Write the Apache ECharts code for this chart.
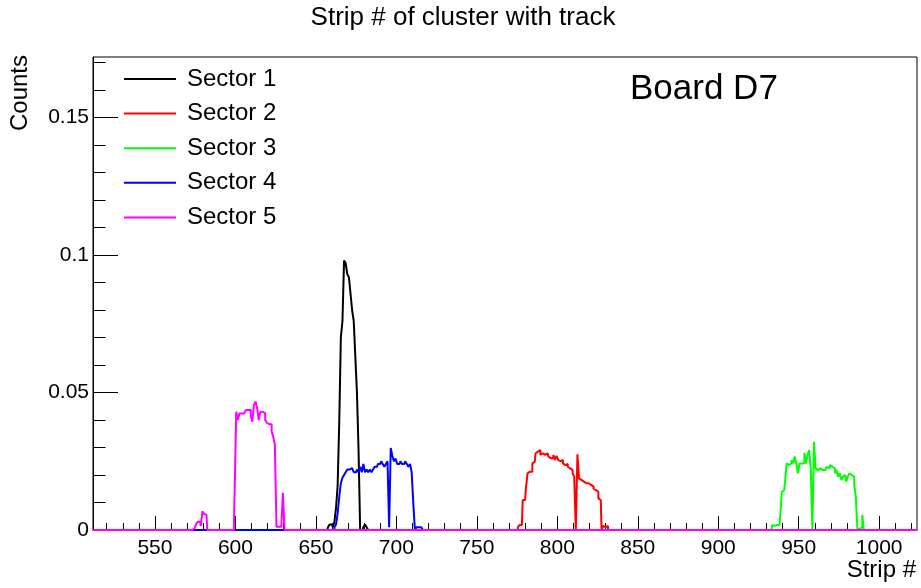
<!DOCTYPE html>
<html>
<head>
<meta charset="utf-8">
<title>Strip # of cluster with track</title>
<script src="https://cdn.jsdelivr.net/npm/echarts@6/dist/echarts.min.js"></script>
<style>
  html, body { margin: 0; padding: 0; background: #fff; }
  #chart { width: 921px; height: 588px; }
</style>
</head>
<body>
<div id="chart"></div>
<script>
// Per-strip normalized counts, one array per sector, starting at the given strip.
const sectorNames = ['Sector 1', 'Sector 2', 'Sector 3', 'Sector 4', 'Sector 5'];
const sectorColors = ['#000000', '#ff0000', '#00ff00', '#0000ff', '#ff00ff'];

const sector1Start = 658;
const sector1Values = [
  0.001, 0.002, 0.002, 0.001, 0.003, 0.008, 0.016, 0.039, 0.070, 0.076,
  0.098, 0.097, 0.093, 0.092, 0.086, 0.080, 0.076, 0.063, 0.050, 0.029,
  0, 0, 0.001, 0.002, 0.001
];

const sector2Start = 776;
const sector2Values = [
  0.001, 0.0018, 0.0018, 0.0109, 0.0109, 0.0152, 0.0206, 0.0212, 0.0212, 0.0242,
  0.0248, 0.0279, 0.0285, 0.0291, 0.0273, 0.0279, 0.0273, 0.0273, 0.0279, 0.0267,
  0.0261, 0.0261, 0.0273, 0.0255, 0.0270, 0.0255, 0.0250, 0.0255, 0.0242, 0.0236,
  0.0240, 0.0230, 0.0224, 0.0218, 0.0206, 0.0194, 0, 0.0275, 0.0188, 0.0182,
  0.0176, 0.0176, 0.0170, 0.0170, 0.0164, 0.0164, 0.0158, 0.0150, 0.0145, 0.0139,
  0.0115, 0.0109, 0, 0.0015, 0.001, 0.0015
];

const sector3Start = 934;
const sector3Values = [
  0.0018, 0.0015, 0.0018, 0.0015, 0.0018, 0.0048, 0.0139, 0.0145, 0.0176, 0.0242,
  0.0236, 0.0242, 0.0255, 0.0242, 0.0267, 0.0242, 0.0206, 0.0242, 0.0242, 0.0242,
  0.0279, 0.0242, 0.0273, 0.0291, 0.0224, 0, 0.0321, 0.0224, 0.0218, 0.0224,
  0.0218, 0.0218, 0.0218, 0.0224, 0.0230, 0.0224, 0.0236, 0.0230, 0.0224, 0.0206,
  0.0218, 0.0194, 0.0206, 0.0182, 0.0194, 0.0200, 0.0176, 0.0194, 0.0206, 0.0200,
  0.0194, 0.0164, 0.0121, 0, 0.0005, 0.001, 0.0055
];

const sector4Start = 662;
const sector4Values = [
  0.001, 0.002, 0.006, 0.012, 0.017, 0.019, 0.020, 0.021, 0.022, 0.022,
  0.0225, 0.022, 0.021, 0.021, 0.022, 0.021, 0.023, 0.021, 0.024, 0.021,
  0.022, 0.021, 0.022, 0.021, 0.022, 0.023, 0.023, 0.024, 0.024, 0.025,
  0.024, 0.023, 0.024, 0.025, 0.001, 0.0298, 0.027, 0.025, 0.026, 0.024,
  0.024, 0.025, 0.024, 0.024, 0.025, 0.024, 0.023, 0.024, 0.021, 0.010,
  0, 0.001, 0.001, 0.001, 0.001
];

const sector5Start = 574;
const sector5Values = [
  0.0005, 0.001, 0.002, 0.003, 0.003, 0.0015, 0.0068, 0.0058, 0.0055, 0,
  0, 0, 0, 0, 0, 0, 0, 0, 0, 0,
  0, 0, 0, 0, 0, 0, 0.0135, 0.043, 0.040, 0.0424,
  0.0424, 0.0424, 0.043, 0.0436, 0.0436, 0.0436, 0.0418, 0.0394, 0.0455, 0.0467,
  0.0442, 0.040, 0.043, 0.043, 0.0424, 0.040, 0.039, 0.0385, 0.0385, 0.0358,
  0.0339, 0.0309, 0.0012, 0.0012, 0.0012, 0.0005, 0.0135
];

// Axis range and tick labels
const stripLow = 511.5;
const stripHigh = 1023.5;
const countsMax = 0.172;
const xMajorTicks = [550, 600, 650, 700, 750, 800, 850, 900, 950, 1000];
const xMinorTicks = [520, 530, 540, 560, 570, 580, 590, 610, 620, 630, 640, 660, 670, 680, 690,
  710, 720, 730, 740, 760, 770, 780, 790, 810, 820, 830, 840, 860, 870, 880, 890,
  910, 920, 930, 940, 960, 970, 980, 990, 1010, 1020];
const yMajorTicks = [0, 0.05, 0.1, 0.15];
const yMinorTicks = [0.01, 0.02, 0.03, 0.04, 0.06, 0.07, 0.08, 0.09, 0.11, 0.12, 0.13, 0.14, 0.16, 0.17];

// Expand a sector's values to the full strip range (empty strips are zero).
function fullHistogram(start, values) {
  const pts = [[stripLow, 0]];
  for (let s = 512; s <= 1023; s++) {
    const i = s - start;
    pts.push([s, (i >= 0 && i < values.length) ? values[i] : 0]);
  }
  pts.push([stripHigh, 0]);
  return pts;
}

const sectorData = [
  fullHistogram(sector1Start, sector1Values),
  fullHistogram(sector2Start, sector2Values),
  fullHistogram(sector3Start, sector3Values),
  fullHistogram(sector4Start, sector4Values),
  fullHistogram(sector5Start, sector5Values)
];

const FONT = '"Liberation Sans", Arial, Helvetica, sans-serif';
const chart = echarts.init(document.getElementById('chart'), null, { renderer: 'canvas' });

const option = {
  animation: false,
  backgroundColor: '#ffffff',
  grid: {
    left: 93, right: 4, top: 57, bottom: 58,
    show: true, borderColor: '#000', borderWidth: 1, backgroundColor: 'transparent'
  },
  legend: {
    orient: 'vertical',
    left: 124, top: 67,
    padding: 0,
    itemWidth: 52, itemHeight: 2, itemGap: 10.6,
    icon: 'rect',
    selectedMode: false,
    textStyle: { fontSize: 24, fontFamily: FONT, color: '#000', padding: [0, 0, 0, 6], lineHeight: 24 },
    data: sectorNames
  },
  xAxis: [
    {
      type: 'value', min: stripLow, max: stripHigh, position: 'bottom',
      axisLine: { show: true, onZero: false, lineStyle: { color: '#000', width: 1 } },
      axisTick: { show: true, inside: true, length: 14, customValues: xMajorTicks, lineStyle: { color: '#000', width: 1 } },
      axisLabel: { customValues: xMajorTicks, margin: 8, color: '#000', fontSize: 21, fontFamily: FONT,
        formatter: v => String(v) },
      splitLine: { show: false }
    },
    {
      type: 'value', min: stripLow, max: stripHigh, position: 'bottom',
      axisLine: { show: false, onZero: false },
      axisTick: { show: true, inside: true, length: 7, customValues: xMinorTicks, lineStyle: { color: '#000', width: 1 } },
      axisLabel: { show: false },
      splitLine: { show: false }
    }
  ],
  yAxis: [
    {
      type: 'value', min: 0, max: countsMax, position: 'left',
      axisLine: { show: true, onZero: false, lineStyle: { color: '#000', width: 1 } },
      axisTick: { show: true, inside: true, length: 25, customValues: yMajorTicks, lineStyle: { color: '#000', width: 1 } },
      axisLabel: { customValues: yMajorTicks, margin: 4, color: '#000', fontSize: 21, fontFamily: FONT,
        formatter: v => String(v) },
      splitLine: { show: false }
    },
    {
      type: 'value', min: 0, max: countsMax, position: 'left',
      axisLine: { show: false, onZero: false },
      axisTick: { show: true, inside: true, length: 12.5, customValues: yMinorTicks, lineStyle: { color: '#000', width: 1 } },
      axisLabel: { show: false },
      splitLine: { show: false }
    }
  ],
  series: sectorNames.map((name, k) => ({
    name: name,
    type: 'line',
    step: 'middle',
    xAxisIndex: 0,
    yAxisIndex: 0,
    data: sectorData[k],
    showSymbol: false,
    symbol: 'none',
    color: sectorColors[k],
    itemStyle: { color: sectorColors[k] },
    lineStyle: { color: sectorColors[k], width: 2 },
    emphasis: { disabled: true },
    z: 2 + k
  })),
  graphic: [
    { type: 'text', x: 463, y: 18, z: 10,
      style: { text: 'Strip # of cluster with track', fill: '#000', font: '26px ' + FONT,
        textAlign: 'center', textVerticalAlign: 'middle' } },
    { type: 'text', x: 630, y: 89, z: 10,
      style: { text: 'Board D7', fill: '#000', font: '35px ' + FONT,
        textAlign: 'left', textVerticalAlign: 'middle' } },
    { type: 'text', x: 916, y: 570, z: 10,
      style: { text: 'Strip #', fill: '#000', font: '24px ' + FONT,
        textAlign: 'right', textVerticalAlign: 'middle' } },
    { type: 'text', x: 20, y: 55, rotation: Math.PI / 2, z: 10,
      style: { text: 'Counts', fill: '#000', font: '24px ' + FONT,
        textAlign: 'right', textVerticalAlign: 'middle' } }
  ]
};

chart.setOption(option);
</script>
</body>
</html>
